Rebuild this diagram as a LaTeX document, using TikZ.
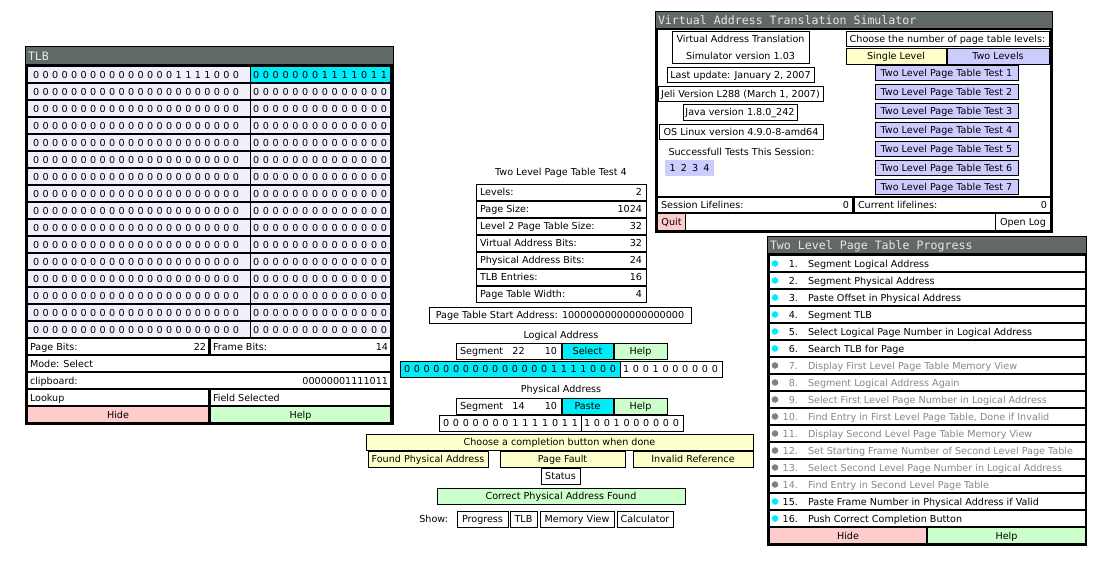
\documentclass[tikz,border=0pt]{standalone}
\usepackage{fontspec}
\setmainfont{DejaVu Sans}
\newfontfamily\tmono{DejaVu Sans Mono}
\definecolor{titlegrey}{RGB}{96,104,104}
\definecolor{titletext}{RGB}{232,232,232}
\definecolor{lav}{RGB}{240,240,250}
\definecolor{cyanc}{RGB}{0,236,248}
\definecolor{pinkc}{RGB}{255,204,204}
\definecolor{lgreen}{RGB}{204,255,204}
\definecolor{lyellow}{RGB}{255,255,204}
\definecolor{lblue}{RGB}{204,204,255}
\definecolor{greytext}{RGB}{136,136,136}
\definecolor{dotgrey}{RGB}{128,128,128}
\colorlet{colA}{cyanc}
\colorlet{colB}{dotgrey}
\colorlet{txtA}{black}
\colorlet{txtB}{greytext}
\newcommand\zerosL{0 0 0 0 0 0 0 0 0 0 0 0 0 0 0 0 0 0 0 0 0 0}
\newcommand\zerosR{0 0 0 0 0 0 0 0 0 0 0 0 0 0}
\newcommand\bits[4]{\node[txt,anchor=west] at (#1,#2) {\makebox[#3pt][s]{#4}};}
\begin{document}
\begin{tikzpicture}[x=1pt,y=-1pt,
  txt/.style={inner sep=0pt,outer sep=0pt,text height=7pt,text depth=0pt,font=\fontsize{9.6}{11}\selectfont},
  bxs/.style={txt,draw=black,line width=1pt,fill=white},
  cellf/.style={txt,fill=white},
  ttl/.style={inner sep=0pt,outer sep=0pt,anchor=west,text=titletext,font=\tmono\fontsize{11.6}{13}\selectfont,text height=8.4pt,text depth=0pt}]
\useasboundingbox (0,0) rectangle (1095,562);
\fill[white] (0,0) rectangle (1095,562);

% ================= TLB window =================
\fill[black] (25,46) rectangle (394,425);
\fill[titlegrey] (26,47) rectangle (393,64);
\node[ttl] (tlbtitle) at (28,56) {TLB};
\node[cellf,fill=lav,anchor=north west,minimum width=221.5pt,minimum height=15pt] (tlbL0) at (28,67) {};
\node[cellf,fill=cyanc,anchor=north west,minimum width=139.5pt,minimum height=15pt] (tlbR0) at (250.5,67) {};
\bits{33}{74.5}{206}{0 0 0 0 0 0 0 0 0 0 0 0 0 0 0 1 1 1 1 0 0 0}
\bits{253}{74.5}{134}{0 0 0 0 0 0 0 1 1 1 1 0 1 1}
\foreach \i in {1,...,15} {
  \node[cellf,fill=lav,anchor=north west,minimum width=221.5pt,minimum height=15pt] (tlbL\i) at (28,{67+17*\i}) {};
  \node[cellf,fill=lav,anchor=north west,minimum width=139.5pt,minimum height=15pt] (tlbR\i) at (250.5,{67+17*\i}) {};
  \bits{33}{74.5+17*\i}{206}{\zerosL}
  \bits{253}{74.5+17*\i}{134}{\zerosR}
}
\node[cellf,anchor=north west,minimum width=180pt,minimum height=15pt] (pb) at (28,339) {};
\node[txt,anchor=west] at ([xshift=2pt]pb.west) {Page Bits:};
\node[txt,anchor=east] at ([xshift=-2pt]pb.east) {22};
\node[cellf,anchor=north west,minimum width=179pt,minimum height=15pt] (fb) at (211,339) {};
\node[txt,anchor=west] at ([xshift=2pt]fb.west) {Frame Bits:};
\node[txt,anchor=east] at ([xshift=-2pt]fb.east) {14};
\node[cellf,anchor=north west,minimum width=362pt,minimum height=15pt] (mode) at (28,356) {};
\node[txt,anchor=west] at ([xshift=2pt]mode.west) {Mode: Select};
\node[cellf,anchor=north west,minimum width=362pt,minimum height=15pt] (clip) at (28,373) {};
\node[txt,anchor=west] at ([xshift=2pt]clip.west) {clipboard:};
\node[txt,anchor=east] at ([xshift=-2pt]clip.east) {00000001111011};
\node[cellf,anchor=north west,minimum width=180pt,minimum height=15pt] (lookup) at (28,390) {};
\node[txt,anchor=west] at ([xshift=2pt]lookup.west) {Lookup};
\node[cellf,anchor=north west,minimum width=179pt,minimum height=15pt] (fsel) at (211,390) {};
\node[txt,anchor=west] at ([xshift=2pt]fsel.west) {Field Selected};
\node[cellf,fill=pinkc,anchor=north west,minimum width=180pt,minimum height=15pt] (tlbhide) at (28,407) {Hide};
\node[cellf,fill=lgreen,anchor=north west,minimum width=179pt,minimum height=15pt] (tlbhelp) at (211,407) {Help};

% ================= middle panel =================
\node[txt] (ptitle) at (561,172) {Two Level Page Table Test 4};
\foreach \lab/\val [count=\i from 0] in {Levels:/2,Page Size:/1024,Level 2 Page Table Size:/32,Virtual Address Bits:/32,Physical Address Bits:/24,TLB Entries:/16,Page Table Width:/4} {
  \node[bxs,anchor=north west,minimum width=170pt,minimum height=16pt] (prow\i) at (476,{184+17*\i}) {};
  \node[txt,anchor=west] at ([xshift=4pt]prow\i.west) {\lab};
  \node[txt,anchor=east] at ([xshift=-4pt]prow\i.east) {\val};
}
\node[bxs,anchor=north west,minimum width=262pt,minimum height=16pt] (psa) at (429,307) {Page Table Start Address: 10000000000000000000};

\node[txt] (lalab) at (561,335) {Logical Address};
\node[bxs,anchor=north west,minimum width=105pt,minimum height=16pt] (lseg) at (456,343) {};
\node[txt,anchor=west] at ([xshift=4pt]lseg.west) {Segment};
\node[txt] at (518.5,351) {22};
\node[txt,anchor=east] at ([xshift=-4pt]lseg.east) {10};
\node[bxs,fill=cyanc,anchor=north west,minimum width=51pt,minimum height=16pt] (lsel) at (562,343) {Select};
\node[bxs,fill=lgreen,anchor=north west,minimum width=53pt,minimum height=16pt] (lhelp) at (614,343) {Help};
\node[bxs,fill=cyanc,anchor=north west,minimum width=220pt,minimum height=16pt] (lpage) at (400,361) {};
\node[bxs,anchor=north west,minimum width=102pt,minimum height=16pt] (loff) at (620,361) {};
\bits{404}{369}{212}{0 0 0 0 0 0 0 0 0 0 0 0 0 0 0 1 1 1 1 0 0 0}
\bits{623}{369}{95}{1 0 0 1 0 0 0 0 0 0}

\node[txt] (palab) at (561,389) {Physical Address};
\node[bxs,anchor=north west,minimum width=105pt,minimum height=16pt] (pseg) at (456,398) {};
\node[txt,anchor=west] at ([xshift=4pt]pseg.west) {Segment};
\node[txt] at (518.5,406) {14};
\node[txt,anchor=east] at ([xshift=-4pt]pseg.east) {10};
\node[bxs,fill=cyanc,anchor=north west,minimum width=51pt,minimum height=16pt] (ppaste) at (562,398) {Paste};
\node[bxs,fill=lgreen,anchor=north west,minimum width=53pt,minimum height=16pt] (phelp) at (614,398) {Help};
\node[bxs,anchor=north west,minimum width=142pt,minimum height=16pt] (pframe) at (439,415) {};
\node[bxs,anchor=north west,minimum width=102pt,minimum height=16pt] (poff) at (581,415) {};
\bits{443}{423}{135}{0 0 0 0 0 0 0 1 1 1 1 0 1 1}
\bits{584}{423}{95}{1 0 0 1 0 0 0 0 0 0}

\node[bxs,fill=lyellow,anchor=north west,minimum width=387pt,minimum height=16pt] (choose) at (366,434) {Choose a completion button when done};
\node[bxs,fill=lyellow,anchor=north west,minimum width=120pt,minimum height=16pt] (found) at (368,451) {Found Physical Address};
\node[bxs,fill=lyellow,anchor=north west,minimum width=125pt,minimum height=16pt] (pfault) at (500,451) {Page Fault};
\node[bxs,fill=lyellow,anchor=north west,minimum width=120pt,minimum height=16pt] (invalid) at (633,451) {Invalid Reference};
\node[bxs,anchor=north west,minimum width=39pt,minimum height=16pt] (status) at (541,468) {Status};
\node[bxs,fill=lgreen,anchor=north west,minimum width=248pt,minimum height=16pt] (correct) at (437,488) {Correct Physical Address Found};
\node[txt,anchor=east] (showlab) at (448,519) {Show:};
\node[bxs,anchor=north west,minimum width=51pt,minimum height=16pt] (sprog) at (457,511) {Progress};
\node[bxs,anchor=north west,minimum width=27pt,minimum height=16pt] (stlb) at (510,511) {TLB};
\node[bxs,anchor=north west,minimum width=74pt,minimum height=16pt] (smem) at (540,511) {Memory View};
\node[bxs,anchor=north west,minimum width=56pt,minimum height=16pt] (scalc) at (617,511) {Calculator};

% ================= simulator window =================
\fill[black] (655,11) rectangle (1053,233);
\fill[titlegrey] (656,12) rectangle (1052,28);
\node[ttl] (simtitle) at (658,20.5) {Virtual Address Translation Simulator};
\fill[white] (658,30) rectangle (1050,196);
\node[bxs,anchor=north west,minimum width=137pt,minimum height=32pt] (ver) at (672,31) {};
\node[txt] at (740.5,39) {Virtual Address Translation};
\node[txt] at (740.5,55.5) {Simulator version 1.03};
\node[bxs,anchor=north west,minimum width=147pt,minimum height=15pt] (lastup) at (667,67) {Last update: January 2, 2007};
\node[bxs,anchor=north west,minimum width=165pt,minimum height=15pt] (jeli) at (658,86) {Jeli Version L288 (March 1, 2007)};
\node[bxs,anchor=north west,minimum width=114pt,minimum height=16pt] (java) at (683,104) {Java version 1.8.0\_242};
\node[bxs,anchor=north west,minimum width=164pt,minimum height=15pt] (os) at (659,124) {OS Linux version 4.9.0-8-amd64};
\node[txt] (succlab) at (741.5,152) {Successfull Tests This Session:};
\node[cellf,fill=lblue,anchor=north west,minimum width=49pt,minimum height=16pt] (succ) at (665,160) {\makebox[40pt][s]{1 2 3 4}};
\node[bxs,anchor=north west,minimum width=203pt,minimum height=15pt] (chlev) at (846,31) {Choose the number of page table levels:};
\node[bxs,fill=lyellow,anchor=north west,minimum width=100pt,minimum height=16pt] (single) at (846,48) {Single Level};
\node[bxs,fill=lblue,anchor=north west,minimum width=102pt,minimum height=16pt] (twolev) at (947,48) {Two Levels};
\foreach \k in {1,...,7} {
  \node[bxs,fill=lblue,minimum width=143pt,minimum height=15pt] (test\k) at (946.5,{73+19*(\k-1)}) {Two Level Page Table Test \k};
}
\node[cellf,anchor=north west,minimum width=194pt,minimum height=14pt] (sesl) at (658,198) {};
\node[txt,anchor=west] at ([xshift=3pt]sesl.west) {Session Lifelines:};
\node[txt,anchor=east] at ([xshift=-3pt]sesl.east) {0};
\node[cellf,anchor=north west,minimum width=195pt,minimum height=14pt] (curl) at (855,198) {};
\node[txt,anchor=west] at ([xshift=3pt]curl.west) {Current lifelines:};
\node[txt,anchor=east] at ([xshift=-3pt]curl.east) {0};
\node[cellf,fill=pinkc,anchor=north west,minimum width=27pt,minimum height=16pt] (quit) at (658,214) {Quit};
\node[cellf,anchor=north west,minimum width=309pt,minimum height=16pt] (qmid) at (686,214) {};
\node[cellf,anchor=north west,minimum width=54pt,minimum height=16pt] (openlog) at (996,214) {Open Log};

% ================= progress window =================
\fill[black] (767,236) rectangle (1087,546);
\fill[titlegrey] (768,237) rectangle (1086,253);
\node[ttl] (progtitle) at (770,245.5) {Two Level Page Table Progress};
\foreach \c/\t [count=\i] in {A/Segment Logical Address,A/Segment Physical Address,A/Paste Offset in Physical Address,A/Segment TLB,A/Select Logical Page Number in Logical Address,A/Search TLB for Page,B/Display First Level Page Table Memory View,B/Segment Logical Address Again,B/Select First Level Page Number in Logical Address,B/{Find Entry in First Level Page Table, Done if Invalid},B/Display Second Level Page Table Memory View,B/Set Starting Frame Number of Second Level Page Table,B/Select Second Level Page Number in Logical Address,B/Find Entry in Second Level Page Table,A/Paste Frame Number in Physical Address if Valid,A/Push Correct Completion Button} {
  \node[cellf,anchor=north west,minimum width=315pt,minimum height=15pt] (prog\i) at (770,{256+17*(\i-1)}) {};
  \fill[col\c] ([xshift=5pt]prog\i.west) circle (3.3pt);
  \node[txt,text=txt\c,anchor=east] at ([xshift=28pt]prog\i.west) {\i.};
  \node[txt,text=txt\c,anchor=west] at ([xshift=38pt]prog\i.west) {\t};
}
\node[cellf,fill=pinkc,anchor=north west,minimum width=156pt,minimum height=15pt] (proghide) at (770,528) {Hide};
\node[cellf,fill=lgreen,anchor=north west,minimum width=157pt,minimum height=15pt] (proghelp) at (928,528) {Help};
\end{tikzpicture}
\end{document}
